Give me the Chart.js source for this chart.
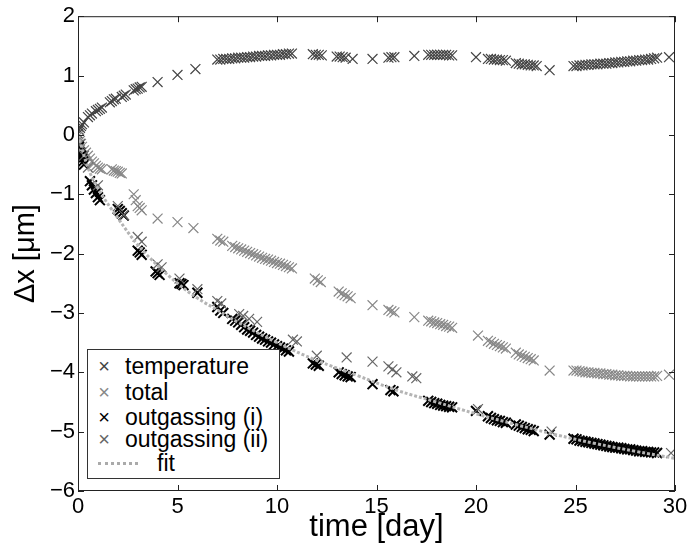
<!DOCTYPE html>
<html>
<head>
<meta charset="utf-8">
<script src="https://cdn.jsdelivr.net/npm/chart.js@4/dist/chart.umd.min.js"></script>
<style>
  body { margin: 0; background: #fff; }
  #wrap { position: relative; width: 692px; height: 546px; }
  #legendBox {
    position: absolute; left: 87px; top: 349px; width: 191px; height: 128px;
    border: 1px solid #333; background: #fff;
    font-family: "Liberation Sans", Arial, sans-serif; font-size: 23px; color: #000;
  }
  .row { position: absolute; left: 0; height: 24px; line-height: 24px; white-space: nowrap; }
  .mk { position: absolute; left: 7px; width: 18px; text-align: center; font-size: 20px; }
  .lbl { position: absolute; left: 37px; }
  .fitline { position: absolute; left: 10px; top: 11px; width: 40px; border-top: 3px dotted #aaa; }
</style>
</head>
<body>
<div id="wrap">
  <canvas id="myChart" width="692" height="546"></canvas>
  <div id="legendBox">
    <div class="row" style="top:4px"><span class="mk" style="color:#444">×</span><span class="lbl">temperature</span></div>
    <div class="row" style="top:30px"><span class="mk" style="color:#888">×</span><span class="lbl">total</span></div>
    <div class="row" style="top:55px"><span class="mk" style="color:#000">×</span><span class="lbl">outgassing (i)</span></div>
    <div class="row" style="top:77px"><span class="mk" style="color:#666">×</span><span class="lbl">outgassing (ii)</span></div>
    <div class="row" style="top:101px;width:100%"><span class="fitline"></span><span class="lbl" style="left:69px">fit</span></div>
  </div>
</div>
<script>
  const xTicks = [0, 5, 10, 15, 20, 25, 30];
  const yTicks = [-6, -5, -4, -3, -2, -1, 0, 1, 2];

  const tempDays = [0.0, 0.05, 0.1, 0.15, 0.2, 0.3, 0.5, 0.6, 0.7, 0.9, 1.0, 1.1, 1.2, 1.6, 1.7, 1.8, 1.9, 2.2, 2.3, 2.4,
    2.8, 2.9, 3.0, 3.1, 3.2, 4.0, 5.0, 5.9,
    7.0, 7.15, 7.3, 7.45, 7.6, 7.75, 7.9, 8.05, 8.2, 8.35, 8.5, 8.65, 8.8, 8.95, 9.1, 9.25, 9.4, 9.55, 9.7, 9.85,
    10.0, 10.15, 10.3, 10.45, 10.6, 10.75,
    11.8, 11.95, 12.1, 12.25, 13.0, 13.15, 13.3, 13.45, 13.8, 14.8, 15.6, 15.75, 15.9, 16.9,
    17.6, 17.75, 17.9, 18.05, 18.2, 18.35, 18.5, 18.65, 18.8,
    20.0, 20.6, 20.75, 20.9, 21.05, 21.2, 21.35, 21.5, 22.0, 22.15, 22.3, 22.45, 22.6, 22.75, 22.9, 23.05, 23.7,
    24.9, 25.05, 25.2, 25.35, 25.5, 25.65, 25.8, 25.95, 26.1, 26.25, 26.4, 26.55, 26.7, 26.85, 27.0, 27.15,
    27.3, 27.45, 27.6, 27.75, 27.9, 28.05, 28.2, 28.35, 28.5, 28.65, 28.8, 28.95, 29.1, 29.7];
  const tempVals = [0.02, 0.08, 0.12, 0.15, 0.18, 0.21, 0.3, 0.33, 0.36, 0.4, 0.42, 0.44, 0.46, 0.55, 0.57, 0.6, 0.61, 0.64, 0.66, 0.68,
    0.75, 0.77, 0.78, 0.8, 0.81, 0.89, 1.01, 1.11,
    1.27, 1.27, 1.28, 1.28, 1.28, 1.29, 1.29, 1.3, 1.3, 1.3, 1.31, 1.31, 1.32, 1.32, 1.33, 1.33, 1.33, 1.34, 1.34, 1.35,
    1.35, 1.35, 1.36, 1.36, 1.37, 1.37,
    1.36, 1.35, 1.35, 1.34, 1.32, 1.32, 1.31, 1.3, 1.28, 1.28, 1.3, 1.31, 1.31, 1.33,
    1.35, 1.35, 1.35, 1.35, 1.35, 1.35, 1.35, 1.34, 1.34,
    1.31, 1.28, 1.28, 1.27, 1.27, 1.26, 1.26, 1.25, 1.21, 1.2, 1.19, 1.19, 1.18, 1.17, 1.17, 1.16, 1.09,
    1.16, 1.16, 1.17, 1.17, 1.18, 1.18, 1.19, 1.19, 1.19, 1.2, 1.2, 1.2, 1.21, 1.21, 1.22, 1.22,
    1.23, 1.23, 1.24, 1.24, 1.25, 1.25, 1.26, 1.26, 1.27, 1.27, 1.28, 1.29, 1.3, 1.31];

  const totalDays = [0.0, 0.05, 0.1, 0.15, 0.2, 0.3, 0.4, 0.5, 0.6, 0.7, 0.8, 0.9, 1.0, 1.1, 1.2, 1.7, 1.8, 1.9, 2.0, 2.1, 2.2,
    2.8, 2.9, 3.0, 3.1, 3.2, 4.0, 5.0, 5.8,
    7.0, 7.15, 7.3, 7.75, 7.9, 8.05, 8.2, 8.35, 8.5, 8.65, 8.8, 8.95, 9.1, 9.25, 9.4, 9.55, 9.7, 9.85,
    10.0, 10.15, 10.3, 10.45, 10.6, 10.75, 11.9, 12.05, 12.2,
    13.1, 13.25, 13.4, 13.55, 13.7, 14.8, 15.6, 15.75, 15.9, 16.9,
    17.6, 17.75, 17.9, 18.05, 18.2, 18.35, 18.5, 18.65, 18.8,
    20.1, 20.6, 20.75, 20.9, 21.05, 21.2, 21.35, 21.5, 22.0, 22.15, 22.3, 22.45, 22.6, 22.75, 22.9, 23.7,
    24.9, 25.05, 25.2, 25.35, 25.5, 25.65, 25.8, 25.95, 26.1, 26.25, 26.4, 26.55, 26.7, 26.85, 27.0, 27.15,
    27.3, 27.45, 27.6, 27.75, 27.9, 28.05, 28.2, 28.35, 28.5, 28.65, 28.8, 28.95, 29.1, 29.7];
  const totalVals = [-0.02, -0.06, -0.1, -0.15, -0.2, -0.26, -0.3, -0.35, -0.4, -0.45, -0.48, -0.52, -0.55, -0.57, -0.58,
    -0.58, -0.6, -0.61, -0.62, -0.64, -0.65,
    -1.0, -1.1, -1.2, -1.23, -1.27, -1.41, -1.47, -1.57,
    -1.75, -1.78, -1.8, -1.87, -1.89, -1.91, -1.93, -1.95, -1.97, -1.99, -2.01, -2.03, -2.05, -2.07, -2.09, -2.1, -2.12, -2.14,
    -2.16, -2.17, -2.19, -2.21, -2.23, -2.25, -2.42, -2.45, -2.48,
    -2.64, -2.67, -2.7, -2.72, -2.75, -2.87, -2.95, -2.97, -2.99, -3.07,
    -3.13, -3.14, -3.16, -3.17, -3.19, -3.2, -3.22, -3.23, -3.25,
    -3.38, -3.47, -3.49, -3.52, -3.54, -3.56, -3.58, -3.6, -3.67, -3.7, -3.72, -3.74, -3.76, -3.78, -3.8, -3.97,
    -3.97, -3.97, -3.98, -3.99, -4.0, -4.0, -4.01, -4.01, -4.02, -4.02, -4.03, -4.03, -4.04, -4.04, -4.05, -4.05,
    -4.06, -4.06, -4.06, -4.07, -4.07, -4.07, -4.07, -4.07, -4.07, -4.07, -4.07, -4.07, -4.06, -4.04];

  const outiDays = [0.05, 0.1, 0.15, 0.2, 0.25, 0.3, 0.6, 0.7, 0.8, 0.9, 1.0, 1.1, 2.0, 2.1, 2.2, 2.3,
    3.0, 3.1, 3.2, 3.9, 4.0, 4.1, 5.1, 5.2, 5.3, 6.0,
    7.0, 7.15, 7.3, 7.75, 7.9, 8.05, 8.2, 8.35, 8.5, 8.65, 8.8, 8.95, 9.1, 9.25, 9.4, 9.55, 9.7, 9.85,
    10.0, 10.15, 10.3, 10.45, 10.6, 11.8, 11.95, 12.1,
    13.1, 13.25, 13.4, 13.55, 13.7, 14.8, 15.7, 15.85,
    17.6, 17.75, 17.9, 18.05, 18.2, 18.35, 18.5, 18.65, 18.8,
    20.0, 20.6, 20.75, 20.9, 21.05, 21.2, 21.35, 21.5, 22.0, 22.15, 22.3, 22.45, 22.6, 22.75, 22.9, 23.7,
    24.9, 25.05, 25.2, 25.35, 25.5, 25.65, 25.8, 25.95, 26.1, 26.25, 26.4, 26.55, 26.7, 26.85, 27.0, 27.15,
    27.3, 27.45, 27.6, 27.75, 27.9, 28.05, 28.2, 28.35, 28.5, 28.65, 28.8, 28.95, 29.1];
  const outiVals = [-0.2, -0.3, -0.35, -0.4, -0.45, -0.5, -0.78, -0.85, -0.92, -0.98, -1.05, -1.1, -1.25, -1.28, -1.32, -1.36,
    -1.95, -1.98, -2.02, -2.3, -2.33, -2.36, -2.5, -2.51, -2.53, -2.66,
    -2.9, -2.96, -3.0, -3.1, -3.13, -3.16, -3.2, -3.24, -3.28, -3.3, -3.33, -3.37, -3.4, -3.43, -3.45, -3.48, -3.5, -3.53,
    -3.56, -3.58, -3.6, -3.63, -3.65, -3.85, -3.87, -3.89,
    -4.0, -4.03, -4.05, -4.07, -4.08, -4.2, -4.3, -4.32,
    -4.48, -4.5, -4.52, -4.53, -4.55, -4.56, -4.57, -4.58, -4.59,
    -4.65, -4.74, -4.77, -4.79, -4.81, -4.82, -4.84, -4.85, -4.88, -4.9, -4.92, -4.94, -4.96, -4.97, -4.99, -5.05,
    -5.12, -5.13, -5.15, -5.16, -5.17, -5.18, -5.19, -5.2, -5.21, -5.22, -5.23, -5.24, -5.25, -5.26, -5.27, -5.27,
    -5.28, -5.29, -5.3, -5.3, -5.31, -5.32, -5.33, -5.33, -5.34, -5.34, -5.35, -5.35, -5.36];

  const outiiDays = [0.1, 0.3, 0.5, 1.0, 2.0, 2.3, 3.0, 3.2, 4.0, 4.2, 5.1, 6.0, 7.0, 7.2, 8.1, 8.3, 8.6, 9.0,
    10.8, 11.0, 12.0, 13.5, 14.8, 15.6, 15.8, 16.0, 16.8, 17.0, 20.1, 23.8, 29.8];
  const outiiVals = [-0.15, -0.35, -0.55, -0.85, -1.2, -1.35, -1.72, -1.8, -2.18, -2.23, -2.42, -2.6, -2.8, -2.84, -3.02, -3.05, -3.1, -3.15,
    -3.45, -3.48, -3.72, -3.75, -3.82, -3.9, -3.95, -4.0, -4.07, -4.1, -4.62, -5.0, -5.36];

  const fitDays = [0, 0.5, 1, 2, 3, 4, 5, 6, 7, 8, 10, 12, 14, 16, 18, 20, 22, 24, 26, 28, 30];
  const fitVals = [0, -0.55, -0.9, -1.4, -1.85, -2.2, -2.5, -2.75, -2.95, -3.15, -3.5, -3.8, -4.05, -4.3, -4.5, -4.7, -4.88, -5.05, -5.2, -5.33, -5.45];

  function pts(xs, ys) {
    return xs.map((d, i) => ({ x: d, y: ys[i] }));
  }

  function marks(label, xs, ys, color, bw, order) {
    return {
      label: label,
      data: pts(xs, ys),
      showLine: false,
      pointStyle: "crossRot",
      pointRadius: 7,
      pointBorderColor: color,
      pointBorderWidth: bw,
      borderColor: color,
      order: order
    };
  }

  // inward ticks + box like the matlab axes
  const boxTicks = {
    id: "boxTicks",
    afterDraw(chart) {
      const ctx = chart.ctx, a = chart.chartArea;
      const xs = chart.scales.x, ys = chart.scales.y;
      ctx.save();
      ctx.strokeStyle = "#222";
      ctx.lineWidth = 1;
      ctx.strokeRect(a.left + 0.5, a.top + 0.5, a.right - a.left - 1, a.bottom - a.top - 1);
      ctx.beginPath();
      xTicks.forEach(v => {
        const p = Math.round(xs.getPixelForValue(v)) + 0.5;
        ctx.moveTo(p, a.bottom); ctx.lineTo(p, a.bottom - 6);
        ctx.moveTo(p, a.top); ctx.lineTo(p, a.top + 6);
      });
      yTicks.forEach(v => {
        const p = Math.round(ys.getPixelForValue(v)) + 0.5;
        ctx.moveTo(a.left, p); ctx.lineTo(a.left + 6, p);
        ctx.moveTo(a.right, p); ctx.lineTo(a.right - 6, p);
      });
      ctx.stroke();
      ctx.restore();
    }
  };

  const font = "'Liberation Sans', Arial, sans-serif";
  const ctx = document.getElementById("myChart").getContext("2d");

  new Chart(ctx, {
    type: "scatter",
    data: {
      datasets: [
        {
          label: "fit",
          data: pts(fitDays, fitVals),
          showLine: true,
          borderColor: "#b4b4b4",
          borderWidth: 3,
          borderDash: [3, 2],
          pointRadius: 0,
          tension: 0.4,
          order: 0
        },
        marks("temperature", tempDays, tempVals, "#444", 1.2, 4),
        marks("total", totalDays, totalVals, "#888", 1.2, 3),
        marks("outgassing (i)", outiDays, outiVals, "#000", 2, 2),
        marks("outgassing (ii)", outiiDays, outiiVals, "#666", 1.2, 1)
      ]
    },
    options: {
      responsive: false,
      animation: false,
      layout: { padding: { top: 15, right: 17, left: 0, bottom: 0 } },
      plugins: { legend: { display: false }, tooltip: { enabled: false } },
      scales: {
        x: {
          type: "linear", min: 0, max: 30,
          afterBuildTicks: s => { s.ticks = xTicks.map(v => ({ value: v })); },
          afterFit: s => { s.height = 55; },
          grid: { display: false, drawTicks: false },
          border: { display: false },
          ticks: { color: "#000", font: { family: font, size: 22 }, padding: 3, maxRotation: 0 },
          title: { display: true, text: "time [day]", color: "#000", font: { family: font, size: 31 }, padding: 0 }
        },
        y: {
          type: "linear", min: -6, max: 2,
          afterBuildTicks: s => { s.ticks = yTicks.map(v => ({ value: v })); },
          afterFit: s => { s.width = 78; },
          grid: { display: false, drawTicks: false },
          border: { display: false },
          ticks: {
            color: "#000", font: { family: font, size: 22 }, padding: 3,
            callback: v => String(v).replace("-", "\u2212")
          },
          title: { display: true, text: "Δx [μm]", color: "#000", font: { family: font, size: 29 }, padding: { top: 9, bottom: 0 } }
        }
      }
    },
    plugins: [boxTicks]
  });
</script>
</body>
</html>
